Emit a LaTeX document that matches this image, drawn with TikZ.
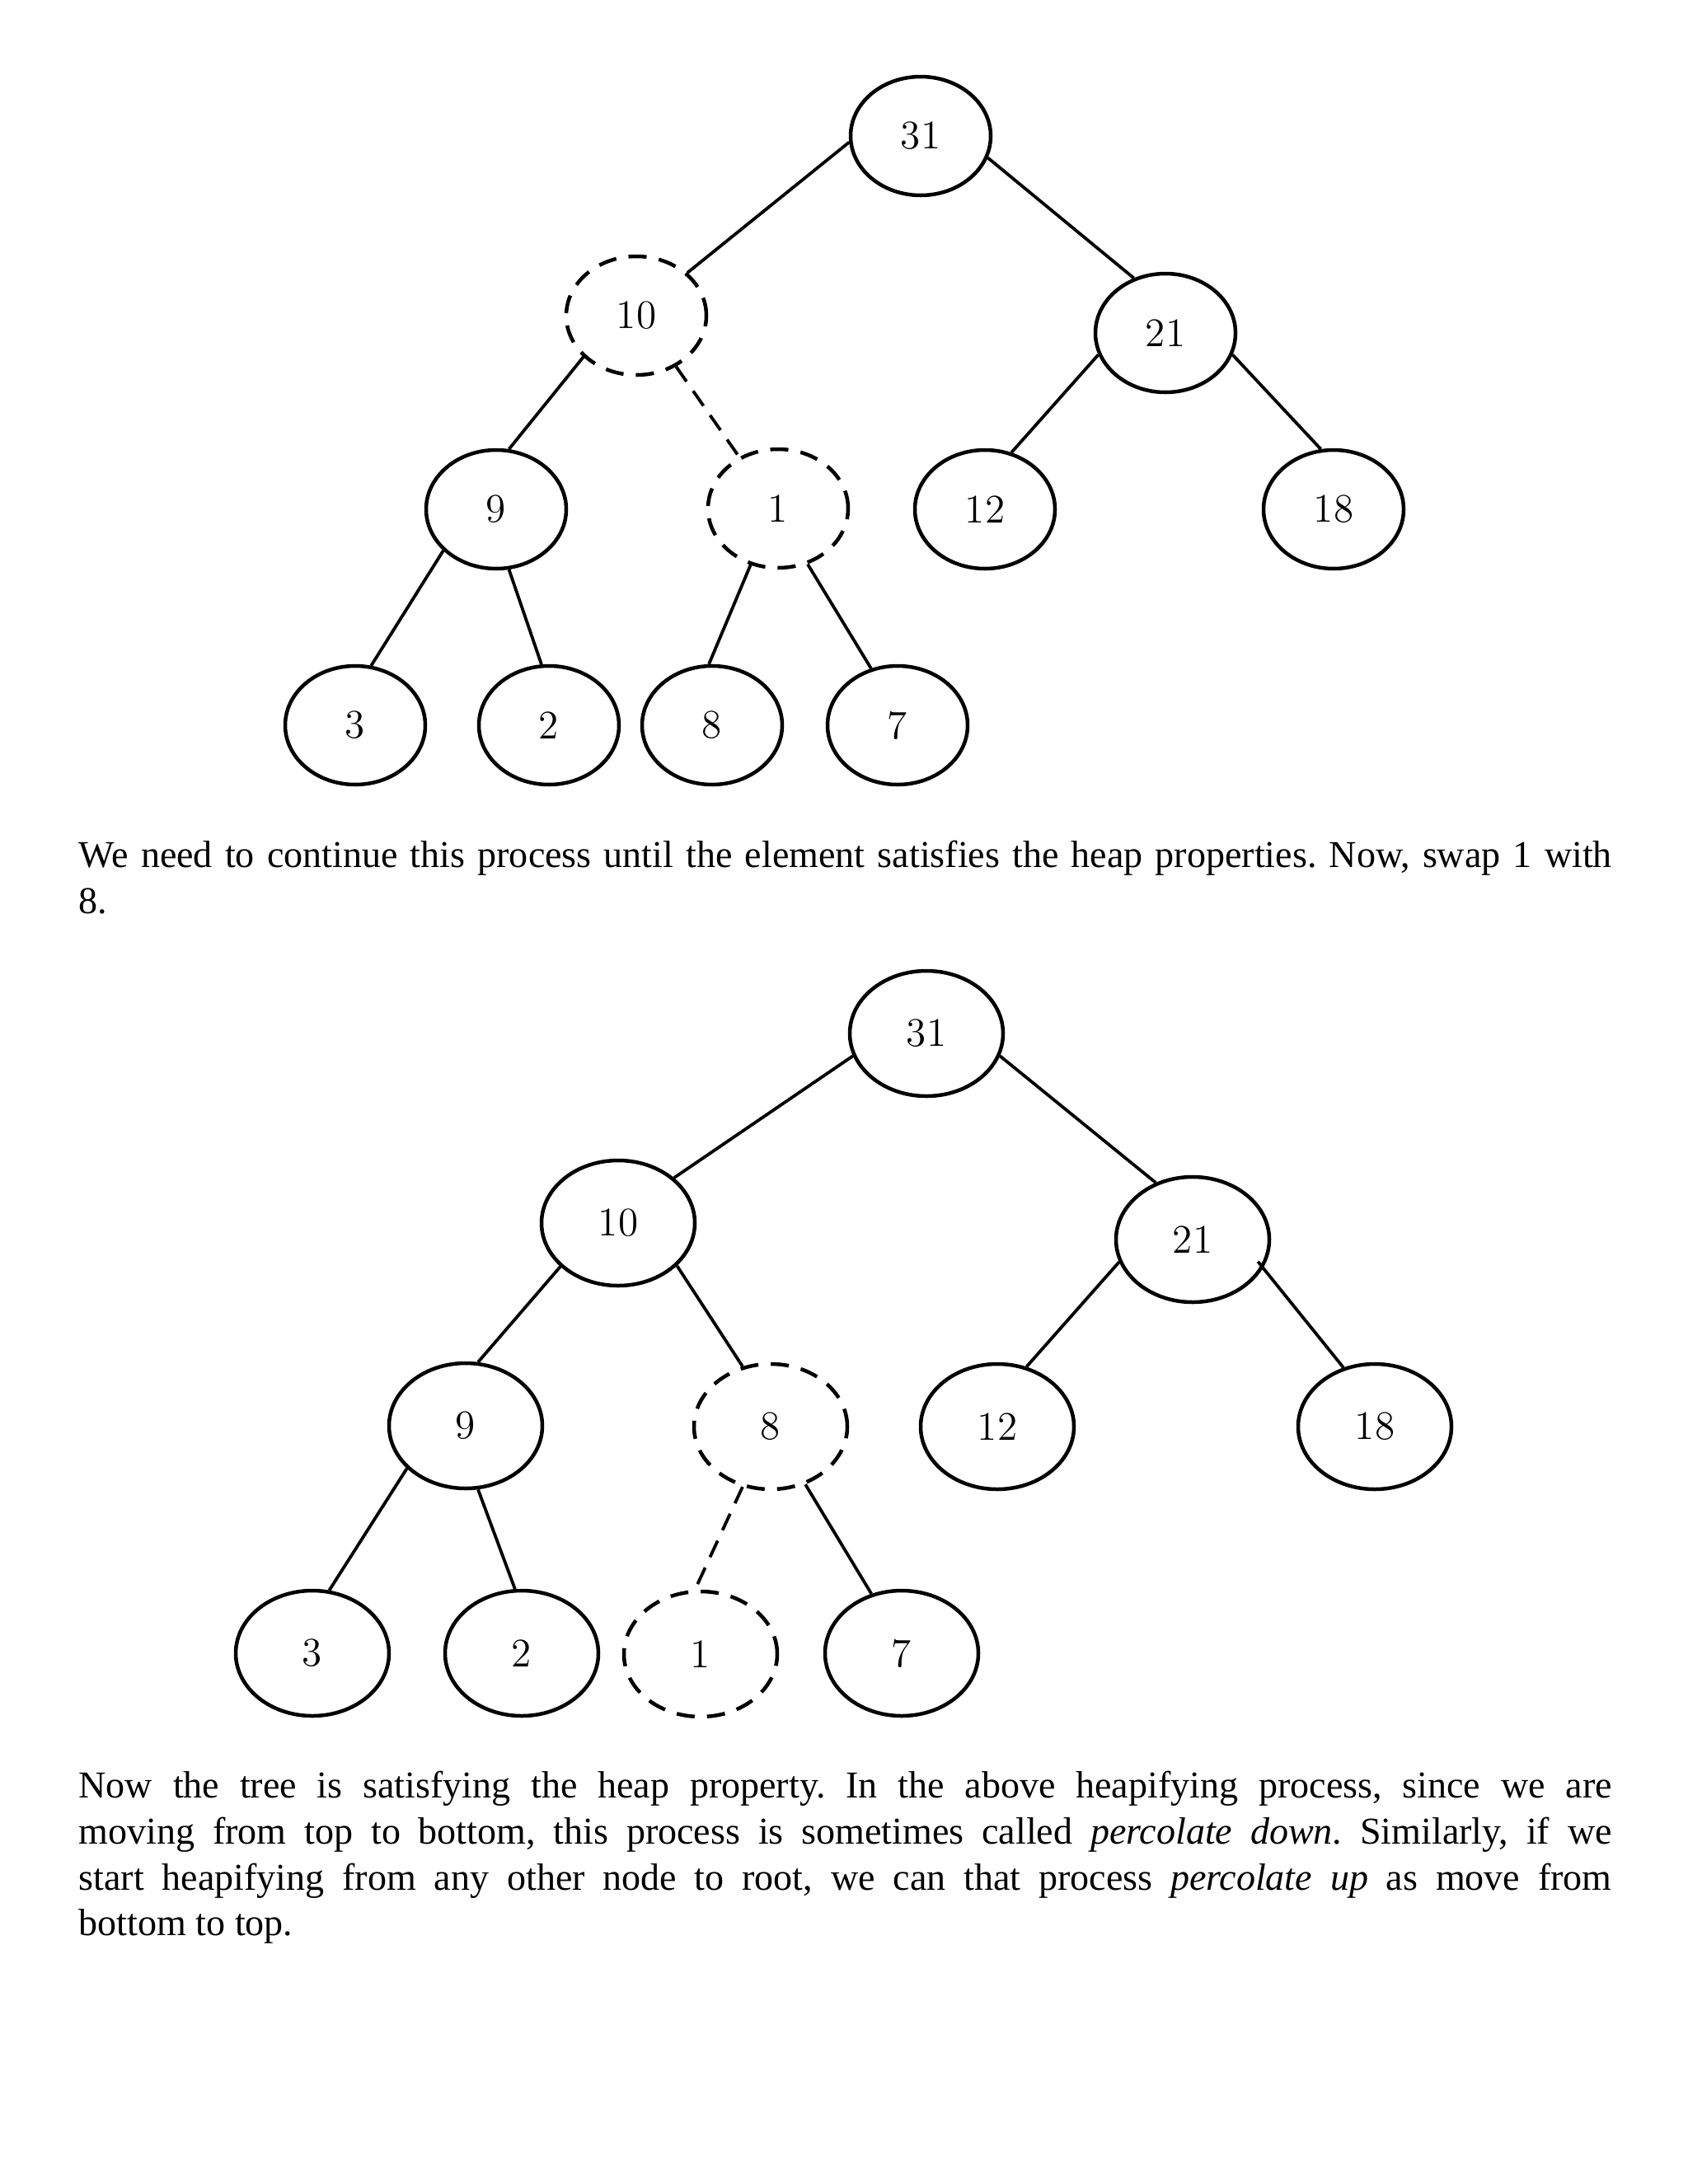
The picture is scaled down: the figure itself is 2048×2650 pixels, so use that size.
\documentclass[tikz,border=0pt]{standalone}
\usepackage{fontspec}
\newfontfamily\bodyfont{Liberation Serif}
\usetikzlibrary{shapes.geometric}
\begin{document}
\frenchspacing
\begin{tikzpicture}[x=0.1mm,y=-0.1mm,
  hn/.style={ellipse, draw, line width=0.45mm, inner sep=0pt, minimum width=17mm, minimum height=14.4mm, font=\fontsize{14pt}{14pt}\selectfont},
  hnb/.style={hn, minimum width=18.6mm, minimum height=15.2mm},
  dn/.style={dash pattern=on 2.2mm off 1.5mm},
  link/.style={line width=0.38mm},
  dlink/.style={link, dash pattern=on 2.2mm off 1.4mm},
  txt/.style={anchor=base west, inner sep=0pt, font=\bodyfont\fontsize{13.1pt}{15.9pt}\selectfont\frenchspacing}]
\fill[white] (0,0) rectangle (2048,2650);
\useasboundingbox (0,0) rectangle (2048,2650);

% ---------- tree 1 ----------
\node[hn] (a31) at (1117,165) {31};
\node[hn,dn] (a10) at (772,383) {10};
\node[hn] (a21) at (1414,404) {21};
\node[hn] (a9) at (602,618) {9};
\node[hn,dn] (a1) at (944,617) {1};
\node[hn] (a12) at (1195,618) {12};
\node[hn] (a18) at (1618,618) {18};
\node[hn] (a3) at (431,880) {3};
\node[hn] (a2) at (666,880) {2};
\node[hn] (a8) at (864,880) {8};
\node[hn] (a7) at (1089,880) {7};

\draw[link] (a31.185) -- (a10.40);
\draw[link] (a31.342) -- (a21.120);
\draw[link] (a10.218) -- (a9.78);
\draw[dlink] (a10.308) -- (a1.127);
\draw[link] (a21.198) -- (a12.65);
\draw[link] (a21.342) -- (a18.102);
\draw[link] (a9.218) -- (a3.75);
\draw[link] (a9.282) -- (a2.97);
\draw[link] (a1.244) -- (a8.93);
\draw[link] (a1.298) -- (a7.115);

% ---------- text 1 ----------
\node[txt] (t1) at (95,1052) {\makebox[186mm][s]{We need to continue this process until the element satisfies the heap properties. Now, swap 1 with}};
\node[txt] (t2) at (95,1108) {8.};

% ---------- tree 2 ----------
\node[hnb] (b31) at (1124,1254) {31};
\node[hnb] (b10) at (750,1484) {10};
\node[hnb] (b21) at (1447,1504) {21};
\node[hnb] (b9) at (565,1730) {9};
\node[hnb,dn] (b8) at (935,1731) {8};
\node[hnb] (b12) at (1210,1731) {12};
\node[hnb] (b18) at (1668,1731) {18};
\node[hnb] (b3) at (379,2006) {3};
\node[hnb] (b2) at (633,2006) {2};
\node[hnb,dn] (b1) at (850,2007) {1};
\node[hnb] (b7) at (1094,2006) {7};

\draw[link] (b31.197) -- (b10.39);
\draw[link] (b31.343) -- (b21.123);
\draw[link] (b10.217) -- (b9.79);
\draw[link] (b10.324) -- (b8.115);
\draw[link] (b21.197) -- (b12.64);
\draw[link, shorten <=-1mm] (b21.338) -- (b18.118);
\draw[link] (b9.216) -- (b3.75);
\draw[link] (b9.281) -- (b2.96);
\draw[dlink] (b8.245) -- (b1.95);
\draw[link] (b8.301) -- (b7.117);

% ---------- text 2 ----------
\node[txt] (p1) at (95,2181) {\makebox[186mm][s]{Now the tree is satisfying the heap property. In the above heapifying process, since we are}};
\node[txt] (p2) at (95,2237) {\makebox[186mm][s]{moving from top to bottom, this process is sometimes called \textit{percolate down}. Similarly, if we}};
\node[txt] (p3) at (95,2293) {\makebox[186mm][s]{start heapifying from any other node to root, we can that process \textit{percolate up} as move from}};
\node[txt] (p4) at (95,2348) {bottom to top.};
\end{tikzpicture}
\end{document}
